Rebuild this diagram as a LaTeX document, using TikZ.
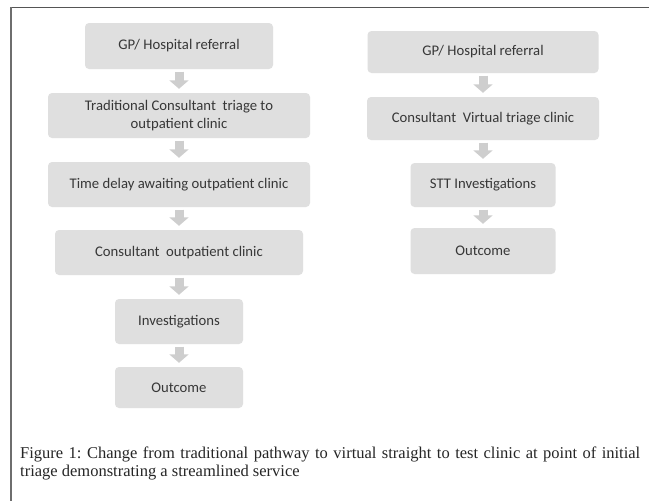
\documentclass[tikz,border=0pt]{standalone}
\usepackage{fontspec}
\setmainfont{Liberation Serif}
\newfontfamily\boxfont{Carlito}
\usetikzlibrary{arrows.meta}
\definecolor{boxgray}{RGB}{223,223,223}
\definecolor{arrowgray}{RGB}{206,206,206}
\definecolor{boxtext}{RGB}{55,55,55}
\definecolor{framegray}{RGB}{85,85,85}
\begin{document}
\begin{tikzpicture}[x=1pt,y=-1pt,
  stepbox/.style={rectangle, rounded corners=4pt, fill=boxgray, text=boxtext,
    font=\boxfont\fontsize{14.7}{17.5}\selectfont, align=center, inner sep=0pt},
  flowarrow/.style={draw=arrowgray, line width=9pt,
    -{Triangle[width=19pt,length=8.5pt]}, shorten <=2.5pt, shorten >=4pt}]
\useasboundingbox (0,0) rectangle (649,501);
\fill[white] (0,0) rectangle (649,501);
% frame lines
\draw[framegray, line width=1.5pt] (10,7.5) -- (649,7.5);
\draw[framegray!85, line width=2pt] (10.5,7) -- (10.5,501);
% left column
\node[stepbox, minimum width=188pt, minimum height=46pt] (L1) at (179,46) {GP/ Hospital referral};
\node[stepbox, minimum width=262pt, minimum height=45pt] (L2) at (179,115.5) {Traditional Consultant\ \ triage to\\outpatient clinic};
\node[stepbox, minimum width=262pt, minimum height=45pt] (L3) at (179,184.5) {Time delay awaiting outpatient clinic};
\node[stepbox, minimum width=248pt, minimum height=45pt] (L4) at (179,252.5) {Consultant\ \ outpatient clinic};
\node[stepbox, minimum width=128pt, minimum height=45pt] (L5) at (179,321.5) {Investigations};
\node[stepbox, minimum width=128pt, minimum height=41pt] (L6) at (179,387.5) {Outcome};
% right column
\node[stepbox, minimum width=231pt, minimum height=42pt] (R1) at (483,52) {GP/ Hospital referral};
\node[stepbox, minimum width=232pt, minimum height=43pt] (R2) at (483,118.5) {Consultant\ \ Virtual triage clinic};
\node[stepbox, minimum width=145pt, minimum height=44pt] (R3) at (483,185) {STT Investigations};
\node[stepbox, minimum width=145pt, minimum height=46pt] (R4) at (483,251) {Outcome};
% arrows
\draw[flowarrow] (L1) -- (L2);
\draw[flowarrow] (L2) -- (L3);
\draw[flowarrow] (L3) -- (L4);
\draw[flowarrow] (L4) -- (L5);
\draw[flowarrow] (L5) -- (L6);
\draw[flowarrow] (R1) -- (R2);
\draw[flowarrow] (R2) -- (R3);
\draw[flowarrow] (R3) -- (R4);
% caption
\node[anchor=north west, inner sep=0pt, text width=620pt, align=justify,
  font=\fontsize{16.5}{17.5}\selectfont, text=black!85] (cap) at (20,447)
  {\frenchspacing\hyphenpenalty=10000 Figure 1: Change from traditional pathway to virtual straight to test clinic at point of initial triage demonstrating a streamlined service};
\end{tikzpicture}
\end{document}
